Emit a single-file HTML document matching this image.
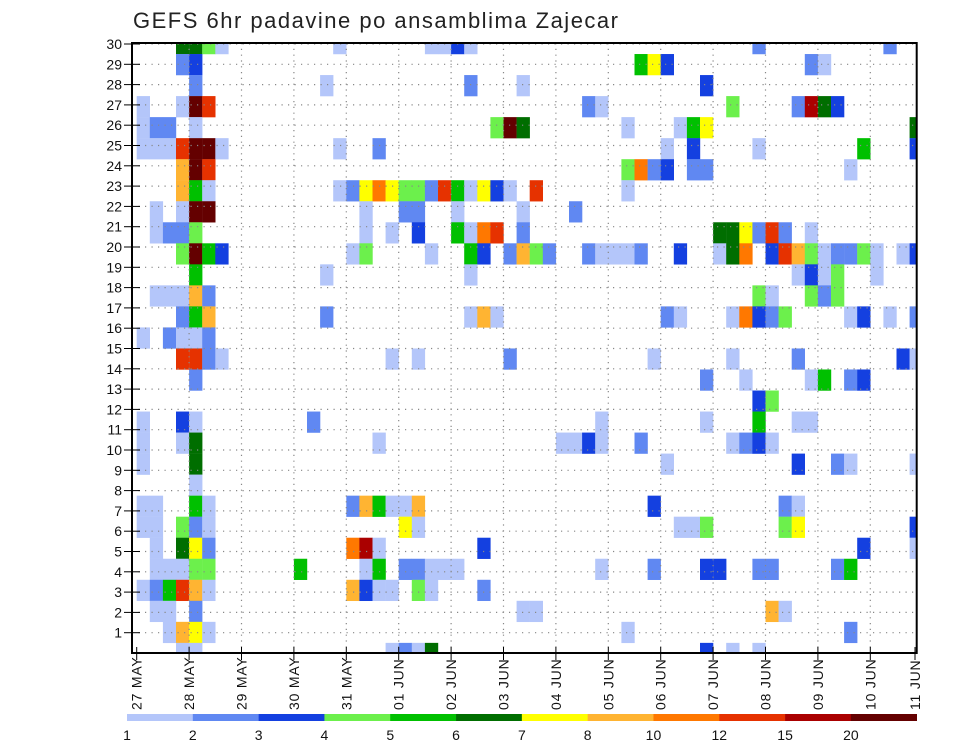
<!DOCTYPE html>
<html><head><meta charset="utf-8"><style>
html,body{margin:0;padding:0;background:#fff;}
svg{display:block;font-family:"Liberation Sans",sans-serif;}
</style></head><body>
<svg id="chart" width="960" height="742" viewBox="0 0 960 742" xmlns="http://www.w3.org/2000/svg">
<defs><clipPath id="plotclip"><rect x="132" y="43" width="784.7" height="610"/></clipPath></defs>
<text x="133" y="28" font-size="22" letter-spacing="1.5" fill="#222">GEFS 6hr padavine po ansamblima Zajecar</text>
<g id="cells" clip-path="url(#plotclip)"></g>
<g id="grid"></g>
<rect x="132" y="43" width="784.7" height="610" fill="none" stroke="#000" stroke-width="2"/>
<g id="yaxis"></g>
<g id="xaxis"></g>
<g id="legend"></g>
</svg>
<script>
// Data: each row string lists "column+category" for one ensemble row (top to bottom)
const levelLabels = ["1","2","3","4","5","6","7","8","10","12","15","20"];
const categoryCodes = ["a","b","c","d","e","f","g","h","i","j","k","l"];
const categoryColors = ["#b4c6fa","#6088f2","#1440e0","#6cf04c","#00c000","#006e00","#ffff00","#ffb432","#ff7800","#e63200","#aa0000","#640000"];
const memberLabels = ["30","29","28","27","26","25","24","23","22","21","20","19","18","17","16","14","13","12","11","10","9","8","7","6","5","4","3","2","1","0"];
const dayLabels = ["27 MAY","28 MAY","29 MAY","30 MAY","31 MAY","01 JUN","02 JUN","03 JUN","04 JUN","05 JUN","06 JUN","07 JUN","08 JUN","09 JUN","10 JUN","11 JUN"];
const yTickLabels = [1,2,3,4,5,6,7,8,9,10,11,12,13,14,15,16,17,18,19,20,21,22,23,24,25,26,27,28,29,30];
const rows = [
"3f 4f 5d 6a 15a 22a 23a 24c 25a 47b 57b",
"3b 4c 38e 39g 40c 51b 52a",
"4b 14a 25b 29a 43c",
"0a 3a 4l 5j 34b 35a 45d 50b 51k 52f 53c",
"0a 1b 2b 4a 27d 28l 29f 37a 41a 42e 43g 59f",
"0a 1a 2a 3j 4l 5l 6a 15a 18b 40a 42c 47a 55e 59c",
"3h 4l 5j 37d 38i 39b 40c 42b 43b 54a",
"3h 4e 5a 15a 16b 17g 18i 19g 20d 21d 22b 23j 24e 25a 26g 27c 28a 30j 37a",
"1a 3a 4l 5l 17a 20b 21b 24a 29a 33b",
"1a 2b 3b 4d 17a 19a 21c 24e 25a 26i 27j 29b 44f 45f 46g 47b 48j 49b 51a",
"3d 4l 5e 6c 16a 17d 22a 25e 26c 28b 29h 30d 31b 34b 35a 36a 37a 38b 41c 44a 45f 46i 48c 49j 50h 51d 52a 53b 54b 55d 56a 58a 59c",
"4e 14a 25a 50a 51c 52a 53d 56a",
"1a 2a 3a 4h 5b 47d 48a 51d 52b 53d",
"3b 4e 5h 14b 25a 26h 27a 40b 41a 45a 46i 47c 48b 49d 54a 55c 57a 59b",
"0a 2b 3a 4a 5b",
"3j 4j 5b 6a 19a 21a 28b 39a 45a 50b 58c 59a",
"4b 43b 46a 51a 52e 54b 55c",
"47c 48d",
"0a 3c 4a 13b 35a 43a 47e 50a 51a",
"0a 3a 4f 18a 32a 33a 34c 35a 38b 45a 46b 47c 48a",
"0a 4f 40a 50c 53b 54a 59a",
"4a",
"0a 1a 4e 5a 16b 17h 18e 19a 20a 21h 39c 49b 50a",
"0a 1a 3d 4b 5a 20g 21a 41a 42a 43d 49d 50g 59c",
"1a 3f 4g 5b 16i 17k 18a 26c 55c 59a",
"1a 2a 3a 4d 5d 12e 17a 18e 20b 21b 22a 23a 24a 35a 39b 43c 44c 47b 48b 53b 54e",
"0a 1b 2e 3j 4h 5a 16h 17c 18a 19a 21d 22a 26b",
"1a 2a 4b 29a 30a 48h 49a",
"2a 3h 4g 5a 37a 54b",
"3a 4a 19a 20b 21a 22f 43c 45a 47a"
];

const NS = "http://www.w3.org/2000/svg";
const PL = 132, PR = 916.7, PT = 43, PB = 653;
const X0 = 136.7, CW = 13.1, Y0 = 33, RH = 21.03;
function xCol(c){ return X0 + CW * c; }
function yRow(r){ return Y0 + RH * r; }
function yTick(v){ return PB - 20.3 * v; }
function xDay(d){ return Math.min(X0 + 4 * CW * d, PR - 1.7); }
function mk(tag, attrs, parent){ const e = document.createElementNS(NS, tag); for (const k in attrs) e.setAttribute(k, attrs[k]); parent.appendChild(e); return e; }

const cellsG = document.getElementById('cells');
rows.forEach((line, r) => {
  line.split(' ').forEach(tok => {
    const col = parseInt(tok, 10);
    const code = tok.slice(-1);
    const ci = categoryCodes.indexOf(code);
    const rect = mk('rect', {x: xCol(col), y: yRow(r), width: CW + 0.2, height: RH + 0.2, fill: categoryColors[ci]}, cellsG);
    
    
  });
});

const gridG = document.getElementById('grid');
yTickLabels.forEach(v => {
  const ln = mk('line', {x1: PL, x2: PR, y1: yTick(v), y2: yTick(v), stroke: '#888', 'stroke-width': 1.2, 'stroke-dasharray': '1.2 5.3'}, gridG);
  
  
});
dayLabels.forEach((d, i) => {
  if (i === 0 || i === dayLabels.length - 1) return;
  const ln = mk('line', {x1: xDay(i), x2: xDay(i), y1: PT, y2: PB, stroke: '#888', 'stroke-width': 1.2, 'stroke-dasharray': '1.2 4.6'}, gridG);
  
  
});

const yG = document.getElementById('yaxis');
yTickLabels.forEach(v => {
  const t = mk('line', {x1: 124, x2: 140, y1: yTick(v), y2: yTick(v), stroke: '#000', 'stroke-width': 1}, yG);
  
  
  const tx = mk('text', {x: 122, y: yTick(v) + 5, 'font-size': 14, 'text-anchor': 'end', fill: '#111'}, yG);
  tx.textContent = String(v);
  
  
});

const xG = document.getElementById('xaxis');
dayLabels.forEach((d, i) => {
  const x = (i === dayLabels.length - 1) ? 915 : xDay(i);
  const t = mk('line', {x1: x, x2: x, y1: PB - 6, y2: PB + 7, stroke: '#000', 'stroke-width': 1}, xG);
  
  
  const tx = mk('text', {x: 0, y: 0, 'font-size': 14, 'letter-spacing': 0.8, fill: '#111', transform: 'translate(' + (x + 5) + ',710) rotate(-90)'}, xG);
  tx.textContent = d;
  
  
});

const lg = document.getElementById('legend');
const LX0 = 127, LX1 = 916.7, segW = (LX1 - LX0) / categoryColors.length;
categoryColors.forEach((c, i) => {
  const r = mk('rect', {x: LX0 + segW * i, y: 714, width: segW + 0.3, height: 7, fill: c}, lg);
  
  
  const tx = mk('text', {x: LX0 + segW * i, y: 740, 'font-size': 14, 'text-anchor': 'middle', fill: '#111'}, lg);
  tx.textContent = levelLabels[i];
  
  
});
</script>
</body></html>
